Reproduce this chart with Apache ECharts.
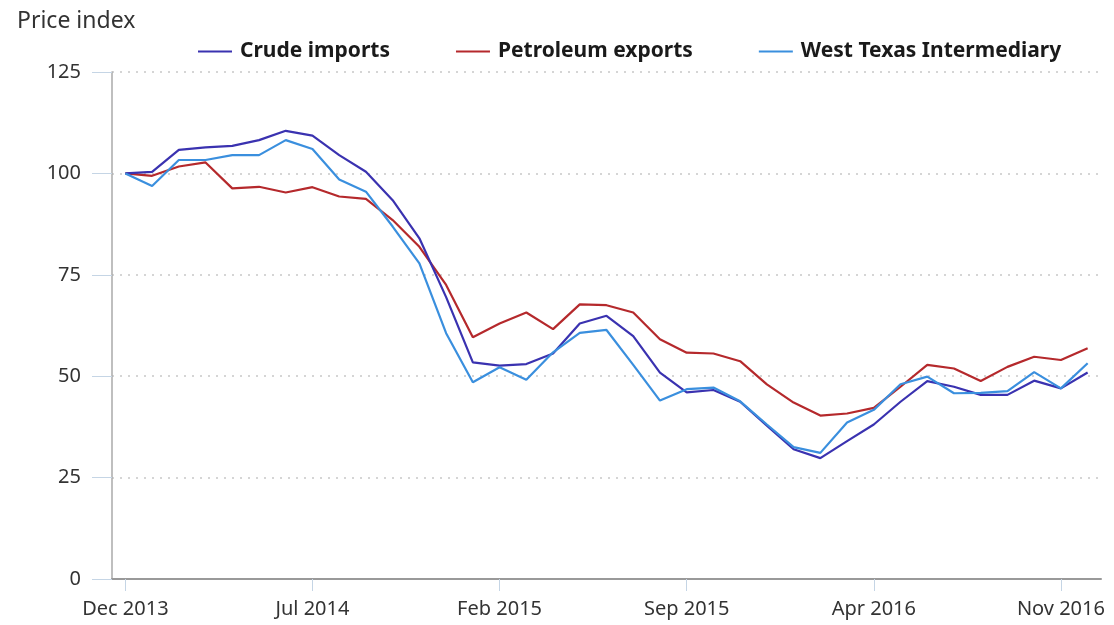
<!DOCTYPE html>
<html>
<head>
<meta charset="utf-8">
<script src="https://cdn.jsdelivr.net/npm/echarts@6/dist/echarts.min.js"></script>
<style>html,body{margin:0;padding:0;background:#fff;}#c{width:1114px;height:625px;}</style>
</head>
<body>
<div id="c"></div>
<script>
const months = ['Dec 2013','Jan 2014','Feb 2014','Mar 2014','Apr 2014','May 2014','Jun 2014','Jul 2014','Aug 2014','Sep 2014','Oct 2014','Nov 2014',
  'Dec 2014','Jan 2015','Feb 2015','Mar 2015','Apr 2015','May 2015','Jun 2015','Jul 2015','Aug 2015','Sep 2015','Oct 2015','Nov 2015',
  'Dec 2015','Jan 2016','Feb 2016','Mar 2016','Apr 2016','May 2016','Jun 2016','Jul 2016','Aug 2016','Sep 2016','Oct 2016','Nov 2016','Dec 2016'];
const crudeImports = [100,100.4,105.8,106.4,106.8,108.2,110.5,109.3,104.5,100.4,93.4,84,69.5,53.4,52.6,53,55.6,63,64.9,59.9,50.9,46,46.6,43.7,37.8,32,29.8,34,38.1,43.7,48.8,47.4,45.4,45.4,48.9,47,50.9];
const petroleumExports = [100,99.4,101.7,102.7,96.3,96.7,95.3,96.6,94.3,93.7,88.5,81.9,72.5,59.6,63,65.7,61.6,67.7,67.5,65.7,59.1,55.8,55.6,53.7,48,43.5,40.3,40.8,42.2,47.4,52.8,51.9,48.8,52.3,54.8,54,56.9];
const wti = [100,96.9,103.3,103.3,104.5,104.5,108.2,106,98.5,95.5,86.9,77.8,60.6,48.5,52.2,49.1,55.9,60.7,61.4,52.8,44,46.8,47.2,43.8,38.1,32.5,31.1,38.6,41.7,48,49.9,45.8,45.9,46.3,51,47,53.2];
const seriesNames = ['Crude imports','Petroleum exports','West Texas Intermediary'];
const yTicks = [0,25,50,75,100,125];

const chart = echarts.init(document.getElementById('c'), null, {renderer:'canvas'});
const font = '"Noto Sans", sans-serif';
chart.setOption({
  animation:false,
  backgroundColor:'#fff',
  title:{text:'Price index',left:12,top:5,textStyle:{fontFamily:font,fontSize:23,fontWeight:'normal',color:'#333'}},
  legend:{
    top:36,left:193,itemWidth:34,itemHeight:14,itemGap:66,
    icon:'path://M0,6 L34,6 L34,8 L0,8 Z',
    textStyle:{fontFamily:font,fontSize:21,fontWeight:'bold',color:'#1a1a1a',padding:[0,0,0,3]},
    data:seriesNames
  },
  grid:{left:112,right:13,top:72,bottom:46,containLabel:false},
  xAxis:{
    type:'category',data:months,boundaryGap:true,
    axisLine:{lineStyle:{color:'#999',width:2}},
    axisTick:{show:true,interval:6,alignWithLabel:true,length:12,lineStyle:{color:'#c5d5e5',width:1}},
    axisLabel:{interval:6,margin:20,fontFamily:font,fontSize:20,color:'#333'},
    splitLine:{show:false}
  },
  yAxis:{
    type:'value',min:yTicks[0],max:yTicks[yTicks.length-1],interval:25,
    axisLine:{show:true,lineStyle:{color:'#aaa',width:1.5}},
    axisTick:{show:true,length:20,lineStyle:{color:'#c5d5e5',width:1}},
    axisLabel:{margin:31,fontFamily:font,fontSize:20,color:'#333'},
    splitLine:{show:true,lineStyle:{color:'#c8c8c8',type:[2,6],width:1.5}}
  },
  series:[
    {name:seriesNames[0],type:'line',data:crudeImports,showSymbol:false,symbol:'none',lineStyle:{width:2.2,color:'#3a32b0'},itemStyle:{color:'#3a32b0'},z:3},
    {name:seriesNames[1],type:'line',data:petroleumExports,showSymbol:false,symbol:'none',lineStyle:{width:2.2,color:'#b5292c'},itemStyle:{color:'#b5292c'},z:2},
    {name:seriesNames[2],type:'line',data:wti,showSymbol:false,symbol:'none',lineStyle:{width:2.2,color:'#3a8fde'},itemStyle:{color:'#3a8fde'},z:4}
  ]
});
</script>
</body>
</html>
